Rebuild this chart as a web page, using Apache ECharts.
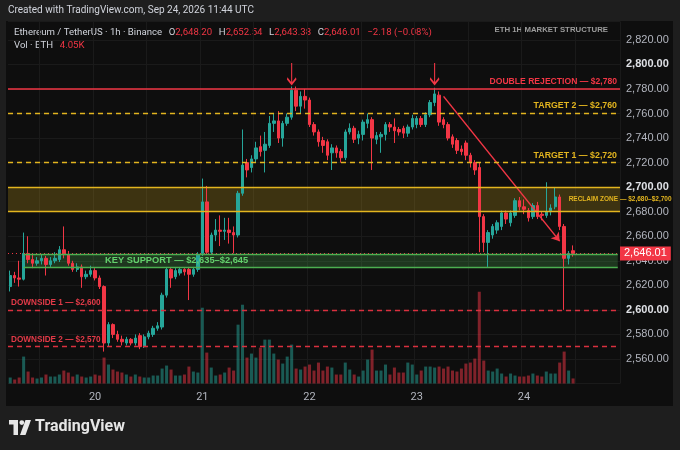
<!DOCTYPE html>
<html>
<head>
<meta charset="utf-8">
<script src="https://cdn.jsdelivr.net/npm/echarts@6/dist/echarts.min.js"></script>
<style>
html,body{margin:0;padding:0;background:#1e1e1e;}
#chart{width:680px;height:450px;}
</style>
</head>
<body>
<div id="chart"></div>
<script>
// ---------------- data ----------------
const firstCandleUTC = Date.UTC(2026, 8, 19, 5); // Sep 19 05:00 UTC, 1h candles
const emptyHoursRight = 10;                       // blank space right of last candle

// [open, close, low, high]
const candles = [
  [2619,2628,2615,2632],[2628,2626,2622,2631],[2626,2625,2619,2640],[2625,2646,2624,2663],[2646,2641,2638,2660],
  [2641,2638,2634,2645],[2638,2640,2636,2643],[2640,2642,2637,2645],[2642,2637,2628,2644],[2637,2640,2635,2643],
  [2640,2642,2638,2647],[2641,2649,2639,2652],[2649,2645,2642,2668],[2645,2638,2636,2648],[2638,2633,2631,2640],
  [2633,2635,2631,2638],[2635,2627,2618,2637],[2627,2629,2625,2632],[2629,2632,2627,2636],[2632,2626,2624,2634],
  [2626,2619,2617,2628],[2619,2573,2566,2620],[2573,2588,2570,2590],[2588,2580,2577,2589],[2580,2576,2574,2583],
  [2576,2574,2571,2579],[2573,2576,2571,2578],[2576,2573,2571,2577],[2573,2577,2571,2580],[2579,2570,2568,2581],
  [2570,2578,2569,2580],[2578,2581,2576,2583],[2580,2585,2578,2587],[2585,2587,2583,2590],[2586,2612,2584,2614],
  [2612,2633,2610,2635],[2633,2626,2618,2634],[2627,2632,2625,2634],[2630,2633,2628,2635],[2633,2631,2628,2634],
  [2633,2629,2608,2635],[2629,2633,2627,2635],[2633,2645,2631,2647],[2646,2688,2644,2707],[2688,2647,2645,2701],
  [2647,2661,2645,2663],[2661,2665,2656,2674],[2665,2664,2652,2677],[2664,2665,2657,2675],[2665,2663,2654,2675],
  [2663,2661,2646,2668],[2661,2695,2659,2697],[2695,2718,2693,2747],[2720,2714,2708,2723],[2716,2723,2712,2726],
  [2723,2732,2720,2737],[2733,2729,2725,2742],[2730,2735,2712,2745],[2734,2752,2732,2758],[2752,2754,2745,2760],
  [2754,2740,2736,2762],[2740,2752,2733,2754],[2752,2757,2750,2760],[2757,2779,2755,2782],[2779,2766,2762,2782],
  [2766,2774,2760,2778],[2774,2771,2764,2780],[2771,2751,2749,2773],[2751,2745,2742,2753],[2745,2737,2733,2747],
  [2738,2734,2728,2741],[2737,2726,2722,2739],[2728,2732,2714,2735],[2732,2728,2724,2734],[2729,2724,2720,2731],
  [2724,2745,2722,2747],[2745,2748,2743,2752],[2748,2739,2736,2750],[2740,2743,2735,2746],[2743,2753,2738,2755],
  [2752,2755,2748,2760],[2755,2740,2714,2757],[2739,2742,2735,2745],[2741,2743,2728,2745],[2743,2751,2738,2753],
  [2751,2749,2745,2753],[2749,2746,2736,2756],[2747,2745,2742,2749],[2748,2744,2740,2750],[2744,2749,2741,2751],
  [2749,2756,2747,2759],[2751,2756,2748,2758],[2756,2751,2749,2758],[2751,2759,2749,2761],[2759,2769,2757,2771],
  [2769,2776,2766,2781],[2775,2753,2750,2778],[2755,2751,2748,2757],[2751,2740,2738,2753],[2741,2735,2732,2743],
  [2738,2730,2727,2740],[2731,2729,2726,2734],[2736,2726,2722,2738],[2726,2720,2716,2728],[2720,2714,2710,2722],
  [2716,2676,2647,2720],[2676,2655,2647,2678],[2655,2663,2635,2665],[2661,2668,2658,2670],[2665,2671,2662,2673],
  [2668,2679,2665,2681],[2679,2674,2670,2681],[2671,2679,2668,2681],[2677,2689,2675,2691],[2689,2684,2681,2692],
  [2684,2682,2678,2690],[2681,2675,2672,2683],[2676,2685,2674,2687],[2685,2676,2674,2688],[2678,2677,2673,2680],
  [2677,2680,2675,2704],[2680,2683,2677,2686],[2684,2692,2682,2700],[2692,2668,2665,2694],[2668,2642,2600,2670],
  [2642,2646,2637,2648],[2648.20,2646.01,2643.38,2652.54]
];

// volume, thousands of ETH
const volumes = [
  4.8,3.2,4.8,21.6,9.6,4.8,4.0,4.8,7.2,5.6,
  5.6,7.2,10.4,8.8,5.6,7.2,5.6,4.8,5.6,7.2,
  6.4,20.8,15.2,11.2,9.6,8.8,7.2,5.6,7.2,5.6,
  4.8,4.8,6.4,6.4,12.0,14.4,11.2,6.4,6.4,7.2,
  13.6,9.6,8.8,60.8,24.8,12.8,6.4,7.2,8.8,12.8,
  10.4,47.2,63.2,20.8,24.0,20.8,28.8,35.2,35.2,24.0,
  19.2,16.0,21.6,31.2,12.0,11.2,13.6,15.2,10.4,16.8,
  10.4,13.6,12.8,7.2,7.2,16.8,11.2,7.2,5.6,10.4,
  19.2,27.2,10.4,10.4,15.2,7.2,12.8,8.8,8.8,16.8,
  15.2,7.2,10.4,13.6,13.6,12.8,13.6,12.0,13.6,10.4,
  9.6,12.0,16.0,16.8,20.0,73.6,18.4,10.4,9.6,12.0,
  8.0,5.6,8.0,6.4,5.6,5.6,6.4,8.0,6.4,5.6,
  9.6,8.0,8.0,16.8,25.6,10.4,4.05
];

const doubleRejection = 2780;
const target2 = 2760;
const target1 = 2720;
const reclaimZone = [2680, 2700];
const keySupport = [2635, 2645];
const downside1 = 2600;
const downside2 = 2570;
const rejectionCandles = [63, 95];          // candle indexes of the two arrows
const trendStart = [97, 2774];              // [candle index, price]
const trendEnd = [123, 2656];
const keySupportStartCandle = 3;
const keySupportLabelCandle = 21;
const priceChange = -2.18;
const priceChangePct = -0.08;
const yTicks = {min: 2540, max: 2835, step: 20};
const boldTicks = [2800, 2700, 2600];

// ---------------- build ----------------
const pad2 = n => String(n).padStart(2, '0');
const categories = [];
for (let i = 0; i < candles.length + emptyHoursRight; i++) {
  const d = new Date(firstCandleUTC + i * 3600000);
  categories.push(pad2(d.getUTCMonth() + 1) + '-' + pad2(d.getUTCDate()) + ' ' + pad2(d.getUTCHours()) + ':00');
}
const lastIdx = categories.length - 1;
const last = candles[candles.length - 1];
const fmt = v => v.toLocaleString('en-US', {minimumFractionDigits: 2, maximumFractionDigits: 2});

const UP = '#26a69a', DOWN = '#f23645';
const GOLD = '#e3b51f', RED = '#f23645', GREEN = '#4caf50';
const FONT = 'Liberation Sans';
const UIFONT = 'Roboto';

const volData = volumes.map((v, i) => ({
  value: v,
  itemStyle: {color: candles[i][1] >= candles[i][0] ? 'rgba(38,166,154,0.5)' : 'rgba(242,54,69,0.5)'}
}));

function lvlLabel(text, color, pos, size) {
  return {show: true, formatter: text, position: pos, color: color, fontWeight: 'bold',
          fontSize: size, fontFamily: FONT, distance: 3};
}

const arrowPath = 'path://M5 0 L5 20 M0.5 14.5 L5 20 L9.5 14.5';
const midSupport = (keySupport[0] + keySupport[1]) / 2;

const option = {
  backgroundColor: '#1e1e1e',
  animation: false,
  textStyle: {fontFamily: FONT},
  grid: [
    {left: 8, right: 60, top: 21.5, bottom: 66.5},
    {left: 8, right: 60, top: 290, bottom: 66.5}
  ],
  xAxis: [
    {
      type: 'category', data: categories, gridIndex: 0, boundaryGap: true,
      axisLine: {show: false}, axisTick: {show: false},
      axisLabel: {
        color: '#b2b5be', fontSize: 11, margin: 8, fontFamily: UIFONT,
        interval: (i, v) => v.endsWith(' 00:00'),
        formatter: v => String(+v.slice(3, 5))
      },
      splitLine: {show: true, interval: (i, v) => v.endsWith(' 00:00') || v.endsWith(' 12:00'),
                  lineStyle: {color: '#1a1a1a', width: 1}}
    },
    {type: 'category', data: categories, gridIndex: 1, show: false}
  ],
  yAxis: [
    {
      type: 'value', gridIndex: 0, position: 'right', scale: true,
      min: yTicks.min, max: yTicks.max, interval: yTicks.step,
      axisLine: {show: false}, axisTick: {show: false},
      axisLabel: {
        color: '#b2b5be', fontSize: 11, margin: 6, showMinLabel: false, showMaxLabel: false,
        formatter: v => boldTicks.includes(v) ? '{b|' + fmt(v) + '}' : fmt(v),
        rich: {b: {fontWeight: 'bold', color: '#dfe1e6', fontSize: 11}}
      },
      splitLine: {lineStyle: {color: '#1a1a1a'}}
    },
    {type: 'value', gridIndex: 1, min: 0, max: 75, show: false, splitLine: {show: false}}
  ],
  series: [
    {
      type: 'bar', name: 'Volume', xAxisIndex: 1, yAxisIndex: 1, data: volData,
      barWidth: '68%', z: 1, clip: false,
      markLine: {
        silent: true, symbol: ['none', 'none'],
        lineStyle: {opacity: 0},
        data: [{yAxis: volumes[volumes.length - 1]}],
        label: {show: true, position: 'end', distance: 1, formatter: volumes[volumes.length - 1] + 'K',
                backgroundColor: RED, color: '#fff', padding: [2, 4, 1, 4], fontSize: 11}
      }
    },
    {
      type: 'candlestick', name: 'ETHUSDT', xAxisIndex: 0, yAxisIndex: 0, data: candles,
      barWidth: '66%', z: 3, clip: false,
      itemStyle: {color: UP, color0: DOWN, borderColor: UP, borderColor0: DOWN, borderWidth: 1},
      markArea: {
        silent: true,
        data: [
          [{yAxis: reclaimZone[1], itemStyle: {color: 'rgba(214,170,30,0.24)'}, label: {show: false}},
           {yAxis: reclaimZone[0]}],
          [{coord: [keySupportStartCandle, keySupport[1]],
            itemStyle: {color: 'rgba(76,175,80,0.26)'}, label: {show: false}},
           {coord: [lastIdx, keySupport[0]]}]
        ]
      },
      markLine: {
        silent: true, symbol: ['none', 'none'], label: {show: false},
        data: [
          [{coord: trendStart, lineStyle: {color: RED, width: 1.5, type: 'solid'}, symbol: 'none'},
           {coord: trendEnd, symbol: 'arrow', symbolSize: 8}]
        ]
      },
      markPoint: {
        silent: true,
        symbol: arrowPath, symbolSize: [9, 21], symbolOffset: [0, '-50%'],
        itemStyle: {color: 'rgba(0,0,0,0)', borderColor: RED, borderWidth: 1.6},
        label: {show: false},
        data: rejectionCandles.map(i => ({coord: [i, 2784]}))
      }
    },
    {
      // overlay holding level lines and their labels, drawn above the candles
      type: 'line', name: 'levels', xAxisIndex: 0, yAxisIndex: 0, data: [], z: 6, silent: true,
      markLine: {
        silent: true, symbol: ['none', 'none'], precision: 2,
        label: {show: false},
        data: [
          {yAxis: doubleRejection, lineStyle: {color: RED, width: 1.5, type: 'solid'},
           label: lvlLabel('DOUBLE REJECTION — $2,780', RED, 'insideEndTop', 8.6)},
          {yAxis: target2, lineStyle: {color: GOLD, width: 1.3, type: [5, 4]},
           label: lvlLabel('TARGET 2 — $2,760', GOLD, 'insideEndTop', 8.8)},
          {yAxis: target1, lineStyle: {color: GOLD, width: 1.3, type: [5, 4]},
           label: lvlLabel('TARGET 1 — $2,720', GOLD, 'insideEndTop', 8.8)},
          {yAxis: reclaimZone[1], lineStyle: {color: GOLD, width: 1.3, type: 'solid'}},
          {yAxis: reclaimZone[0], lineStyle: {color: GOLD, width: 1.3, type: 'solid'}},
          [{coord: [Math.round(categories.length * 0.915), (reclaimZone[0] + reclaimZone[1]) / 2],
            lineStyle: {color: 'rgba(0,0,0,0)', width: 1},
            label: {show: true, formatter: 'RECLAIM ZONE — $2,680–$2,700', position: 'insideStart', distance: 0,
                    color: GOLD, fontWeight: 'bold', fontSize: 6.5, fontFamily: FONT}},
           {coord: [lastIdx, (reclaimZone[0] + reclaimZone[1]) / 2]}],
          {yAxis: downside1, lineStyle: {color: '#d9303f', width: 1.3, type: [5, 4]},
           label: lvlLabel('DOWNSIDE 1 — $2,600', '#e23a48', 'insideStartTop', 8.2)},
          {yAxis: downside2, lineStyle: {color: '#d9303f', width: 1.3, type: [5, 4]},
           label: lvlLabel('DOWNSIDE 2 — $2,570', '#e23a48', 'insideStartTop', 8.2)},
          {yAxis: last[1], lineStyle: {color: RED, width: 1, type: [1, 3]},
           label: {show: true, position: 'end', distance: 0, formatter: fmt(last[1]),
                   backgroundColor: RED, color: '#fff', padding: [2, 4, 1, 4], fontSize: 11}},
          [{coord: [keySupportStartCandle, keySupport[1]], lineStyle: {color: GREEN, width: 1.3, type: 'solid'}},
           {coord: [lastIdx, keySupport[1]]}],
          [{coord: [keySupportStartCandle, keySupport[0]], lineStyle: {color: GREEN, width: 1.3, type: 'solid'}},
           {coord: [lastIdx, keySupport[0]]}],
          [{coord: [keySupportLabelCandle, midSupport], lineStyle: {color: 'rgba(0,0,0,0)', width: 1},
            label: {show: true, formatter: 'KEY SUPPORT — $2,635–$2,645', position: 'insideStart', distance: 1,
                    color: '#63d16c', fontWeight: 'bold', fontSize: 9.3, fontFamily: FONT}},
           {coord: [lastIdx, midSupport]}]
        ]
      }
    }
  ],
  graphic: [
    {type: 'rect', z: -100, shape: {x: 6, y: 21, width: 667, height: 385}, style: {fill: '#0e0e0e'}},
    {type: 'text', left: 8, top: 5, style: {text: 'Created with TradingView.com, Sep 24, 2026 11:44 UTC',
      fill: '#d1d4dc', fontSize: 10, fontFamily: UIFONT}},
    {type: 'text', left: 14, top: 27, style: {
      text: '{l|Ethereum / TetherUS · 1h · Binance}  {l|O}{v|' + fmt(last[0]) + '}  {l|H}{v|' + fmt(last[3]) +
            '}  {l|L}{v|' + fmt(last[2]) + '}  {l|C}{v|' + fmt(last[1]) + '}  {v|' +
            (priceChange < 0 ? '−' : '+') + Math.abs(priceChange).toFixed(2) + ' (' +
            (priceChangePct < 0 ? '−' : '+') + Math.abs(priceChangePct).toFixed(2) + '%)}',
      rich: {l: {fill: '#d1d4dc', fontSize: 9.6, fontFamily: UIFONT}, v: {fill: '#f23645', fontSize: 9.6, fontFamily: UIFONT}}
    }},
    {type: 'text', left: 14, top: 40, style: {
      text: '{l|Vol · ETH}  {v|' + volumes[volumes.length - 1] + 'K}',
      rich: {l: {fill: '#d1d4dc', fontSize: 9.6, fontFamily: UIFONT}, v: {fill: '#f23645', fontSize: 9.6, fontFamily: UIFONT}}
    }},
    {type: 'text', right: 72, top: 26, style: {text: 'ETH 1H MARKET STRUCTURE', fill: '#9c9c9c',
      fontSize: 7.8, fontWeight: 'bold', fontFamily: FONT}},
    // TradingView logo
    {type: 'group', left: 9, top: 420, children: [
      {type: 'rect', shape: {x: 0, y: 0, width: 9, height: 4.5}, style: {fill: '#e6e6e6'}},
      {type: 'rect', shape: {x: 4.5, y: 0, width: 4.5, height: 15}, style: {fill: '#e6e6e6'}},
      {type: 'circle', shape: {cx: 12.8, cy: 2.6, r: 2.4}, style: {fill: '#e6e6e6'}},
      {type: 'polygon', shape: {points: [[16.5, 0], [22, 0], [16.5, 15], [11, 15]]}, style: {fill: '#e6e6e6'}}
    ]},
    {type: 'text', left: 35, top: 419, style: {text: 'TradingView', fill: '#e6e6e6', fontSize: 16,
      fontWeight: 'bold', fontFamily: UIFONT}}
  ]
};

const chart = echarts.init(document.getElementById('chart'), null, {renderer: 'canvas'});
chart.setOption(option);
</script>
</body>
</html>
